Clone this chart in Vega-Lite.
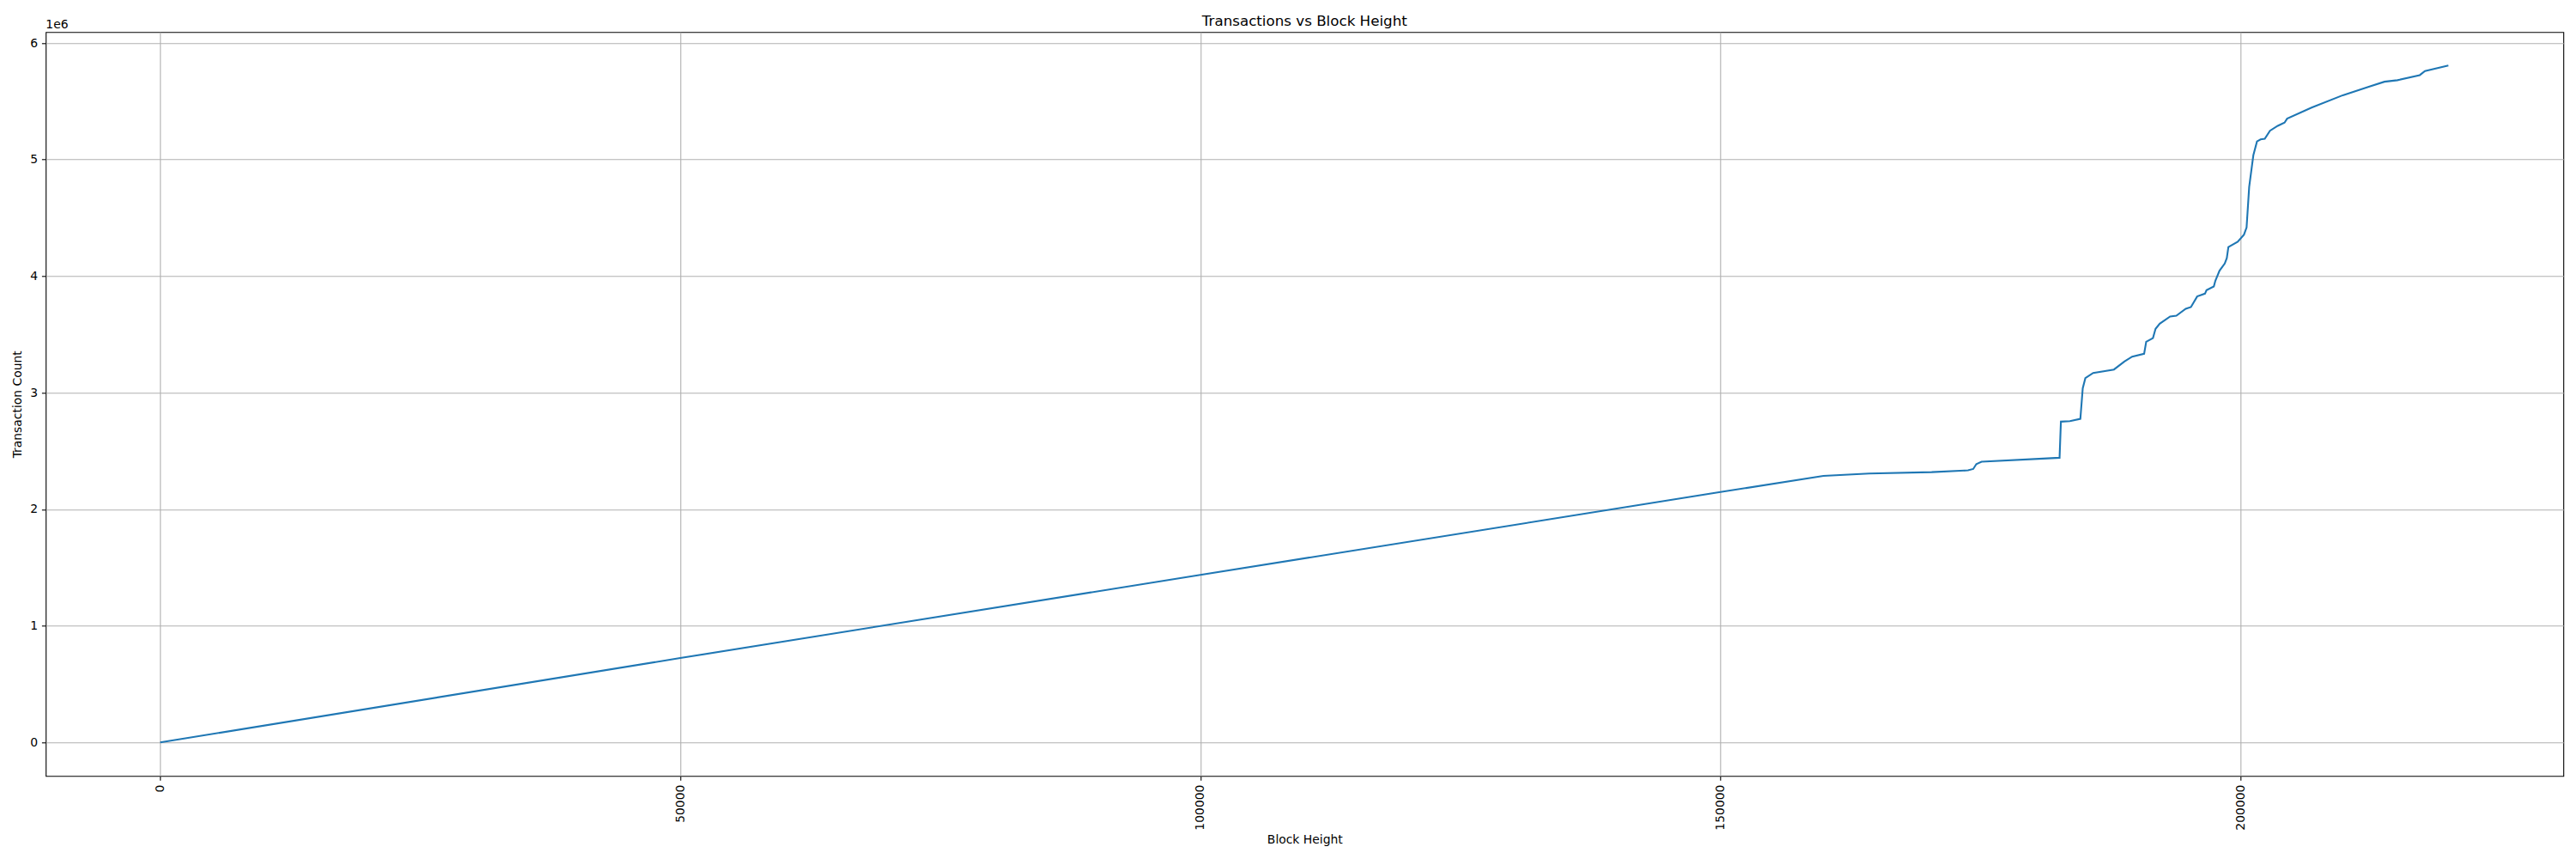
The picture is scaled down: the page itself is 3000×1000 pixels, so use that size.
{
  "$schema": "https://vega.github.io/schema/vega-lite/v6.json",
  "width": 2932,
  "height": 866,
  "autosize": {"type": "none"},
  "padding": {"left": 53.3, "top": 37.3, "right": 14.7, "bottom": 96.7},
  "background": "white",
  "config": {
    "font": "DejaVu Sans",
    "view": {"stroke": "black", "strokeWidth": 1.1},
    "axis": {
      "grid": true,
      "gridColor": "#b0b0b0",
      "gridWidth": 1.1,
      "domain": false,
      "tickColor": "black",
      "tickSize": 4.9,
      "tickWidth": 1.1,
      "labelPadding": 4.9,
      "labelFontSize": 13.9,
      "labelColor": "black",
      "labelFont": "DejaVu Sans",
      "titleFont": "DejaVu Sans",
      "titleFontSize": 13.9,
      "titleFontWeight": "normal",
      "titleColor": "black",
      "labelOverlap": false,
      "labelFlush": false
    }
  },
  "title": {
    "text": "Transactions vs Block Height",
    "fontSize": 16.7,
    "fontWeight": "normal",
    "font": "DejaVu Sans",
    "color": "black",
    "anchor": "middle",
    "frame": "group",
    "offset": -11
  },
  "layer": [
    {
      "data": {
        "values": [
          {"block_height": 0, "transactions": 0},
          {"block_height": 50000, "transactions": 724000},
          {"block_height": 100000, "transactions": 1437000},
          {"block_height": 150000, "transactions": 2148000},
          {"block_height": 159900, "transactions": 2287000},
          {"block_height": 164300, "transactions": 2307000},
          {"block_height": 170300, "transactions": 2319000},
          {"block_height": 173800, "transactions": 2334000},
          {"block_height": 174300, "transactions": 2346000},
          {"block_height": 174600, "transactions": 2388000},
          {"block_height": 175100, "transactions": 2408000},
          {"block_height": 182600, "transactions": 2442000},
          {"block_height": 182730, "transactions": 2752000},
          {"block_height": 183600, "transactions": 2757000},
          {"block_height": 184600, "transactions": 2776000},
          {"block_height": 184830, "transactions": 3039000},
          {"block_height": 185080, "transactions": 3125000},
          {"block_height": 185830, "transactions": 3170000},
          {"block_height": 187830, "transactions": 3199000},
          {"block_height": 188830, "transactions": 3268000},
          {"block_height": 189580, "transactions": 3310000},
          {"block_height": 190730, "transactions": 3334000},
          {"block_height": 190930, "transactions": 3437000},
          {"block_height": 191580, "transactions": 3469000},
          {"block_height": 191830, "transactions": 3548000},
          {"block_height": 192230, "transactions": 3592000},
          {"block_height": 193230, "transactions": 3654000},
          {"block_height": 193830, "transactions": 3661000},
          {"block_height": 194730, "transactions": 3720000},
          {"block_height": 195230, "transactions": 3735000},
          {"block_height": 195830, "transactions": 3826000},
          {"block_height": 196580, "transactions": 3850000},
          {"block_height": 196730, "transactions": 3880000},
          {"block_height": 197430, "transactions": 3912000},
          {"block_height": 197580, "transactions": 3961000},
          {"block_height": 197980, "transactions": 4047000},
          {"block_height": 198480, "transactions": 4108000},
          {"block_height": 198680, "transactions": 4155000},
          {"block_height": 198830, "transactions": 4250000},
          {"block_height": 199730, "transactions": 4295000},
          {"block_height": 200330, "transactions": 4356000},
          {"block_height": 200580, "transactions": 4418000},
          {"block_height": 200830, "transactions": 4765000},
          {"block_height": 201230, "transactions": 5037000},
          {"block_height": 201580, "transactions": 5156000},
          {"block_height": 201930, "transactions": 5173000},
          {"block_height": 202330, "transactions": 5178000},
          {"block_height": 202830, "transactions": 5248000},
          {"block_height": 203580, "transactions": 5290000},
          {"block_height": 204230, "transactions": 5317000},
          {"block_height": 204480, "transactions": 5351000},
          {"block_height": 206830, "transactions": 5446000},
          {"block_height": 209830, "transactions": 5552000},
          {"block_height": 212330, "transactions": 5624000},
          {"block_height": 213830, "transactions": 5668000},
          {"block_height": 215080, "transactions": 5681000},
          {"block_height": 217230, "transactions": 5725000},
          {"block_height": 217730, "transactions": 5760000},
          {"block_height": 219980, "transactions": 5807000}
        ]
      },
      "mark": {"type": "line", "color": "#1f77b4", "strokeWidth": 2.1, "clip": true},
      "encoding": {
        "x": {
          "field": "block_height",
          "type": "quantitative",
          "scale": {"domain": [-11000, 231036], "nice": false, "zero": false},
          "axis": {
            "title": "Block Height",
            "values": [0, 50000, 100000, 150000, 200000],
            "format": "d",
            "labelAngle": 270,
            "titlePadding": 4
          }
        },
        "y": {
          "field": "transactions",
          "type": "quantitative",
          "scale": {"domain": [-287400, 6094300], "nice": false, "zero": false},
          "axis": {
            "title": "Transaction Count",
            "values": [0, 1000000, 2000000, 3000000, 4000000, 5000000, 6000000],
            "labelExpr": "format(datum.value / 1000000, 'd')",
            "titlePadding": 7
          }
        }
      }
    },
    {
      "data": {"values": [{}]},
      "mark": {
        "type": "text",
        "text": "1e6",
        "align": "left",
        "baseline": "alphabetic",
        "dy": -4,
        "fontSize": 13.9,
        "font": "DejaVu Sans",
        "color": "black"
      },
      "encoding": {
        "x": {"datum": -11000},
        "y": {"datum": 6094300}
      }
    }
  ]
}
